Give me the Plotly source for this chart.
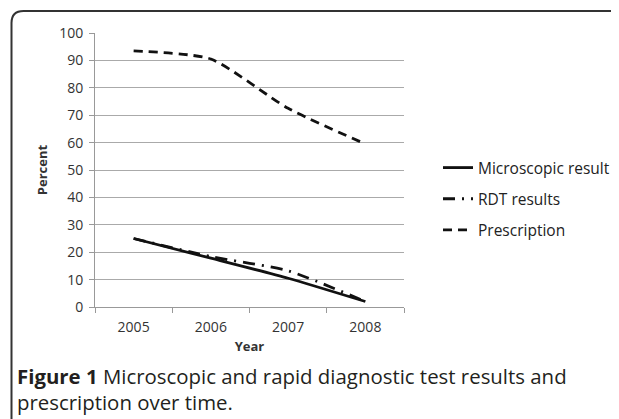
import plotly.graph_objects as go

years = ["2005", "2006", "2007", "2008"]
microscopic = [25, 17.8, 10.5, 2]
rdt = [25, 18.4, 13.2, 2]
prescription = [93.5, 90.5, 72.5, 59.5]
series_names = ["Microscopic result", "RDT results", "Prescription"]
y_ticks = [0, 10, 20, 30, 40, 50, 60, 70, 80, 90, 100]

# page has an 8px body margin: work in reference pixel coords minus 8
OFF = 8
W, H = 619, 419
L, T = 95 - OFF, 33 - OFF
R = W - (404 - OFF)
B = H - (307 - OFF)
pw, ph = W - L - R, H - T - B

def px(x):
    return (x - OFF - L) / pw

def py(y):
    return (H - B - (y - OFF)) / ph

fig = go.Figure()
styles = [
    dict(color="#111", width=2.8, dash="solid"),
    dict(color="#111", width=2.8, dash="12px,7px,2px,7px"),
    dict(color="#111", width=2.8, dash="9px,6px"),
]
for name, vals, st in zip(series_names, [microscopic, rdt, prescription], styles):
    fig.add_trace(go.Scatter(
        x=years, y=vals, name=name, mode="lines",
        line=dict(shape="spline", smoothing=0.6, **st),
        legendgroup=name,
    ))

font_family = "Open Sans, Liberation Sans, sans-serif"

fig.update_layout(
    width=W, height=H,
    margin=dict(l=L, r=R, t=T, b=B),
    paper_bgcolor="white", plot_bgcolor="white",
    font=dict(family=font_family, color="#333", size=14),
    showlegend=True,
    legend=dict(
        x=px(438), y=py(151), xanchor="left", yanchor="top",
        font=dict(size=15.5, color="#222"),
        tracegroupgap=8, bgcolor="rgba(0,0,0,0)",
    ),
    xaxis=dict(
        type="category", range=[-0.5, 3.5],
        showline=True, linecolor="#999", linewidth=1,
        ticks="outside", ticklen=5, tickcolor="#999", tickson="boundaries",
        ticklabelstandoff=7,
        showgrid=False, tickfont=dict(size=14, color="#333"),
        title=dict(text="<b>Year</b>", font=dict(size=13, color="#333"), standoff=7),
    ),
    yaxis=dict(
        range=[0, 100], tickvals=y_ticks,
        showline=True, linecolor="#999", linewidth=1,
        ticks="outside", ticklen=5, tickcolor="#999",
        ticklabelstandoff=3,
        showgrid=True, gridcolor="#aaa", gridwidth=1,
        zeroline=False, tickfont=dict(size=14, color="#333"),
        title=dict(text="<b>Percent</b>", font=dict(size=13, color="#333"), standoff=8),
    ),
)

# Frame (top and left border with rounded corner)
x0, y0, r = 11.5, 11, 12
path = (f"M {px(x0)} {py(H+20)} L {px(x0)} {py(y0+r)} "
        f"Q {px(x0)} {py(y0)} {px(x0+r)} {py(y0)} L {px(W+20)} {py(y0)}")
fig.add_shape(type="path", path=path, xref="paper", yref="paper",
              line=dict(color="#333", width=2))

fig.add_annotation(
    x=px(15), y=py(376), xref="paper", yref="paper",
    xanchor="left", yanchor="middle", showarrow=False,
    text="<b>Figure 1</b> Microscopic and rapid diagnostic test results and",
    font=dict(size=20.4, color="#231f20", family=font_family),
)
fig.add_annotation(
    x=px(15), y=py(402), xref="paper", yref="paper",
    xanchor="left", yanchor="middle", showarrow=False,
    text="prescription over time.",
    font=dict(size=20.4, color="#231f20", family=font_family),
)

fig.write_html("out.html")
